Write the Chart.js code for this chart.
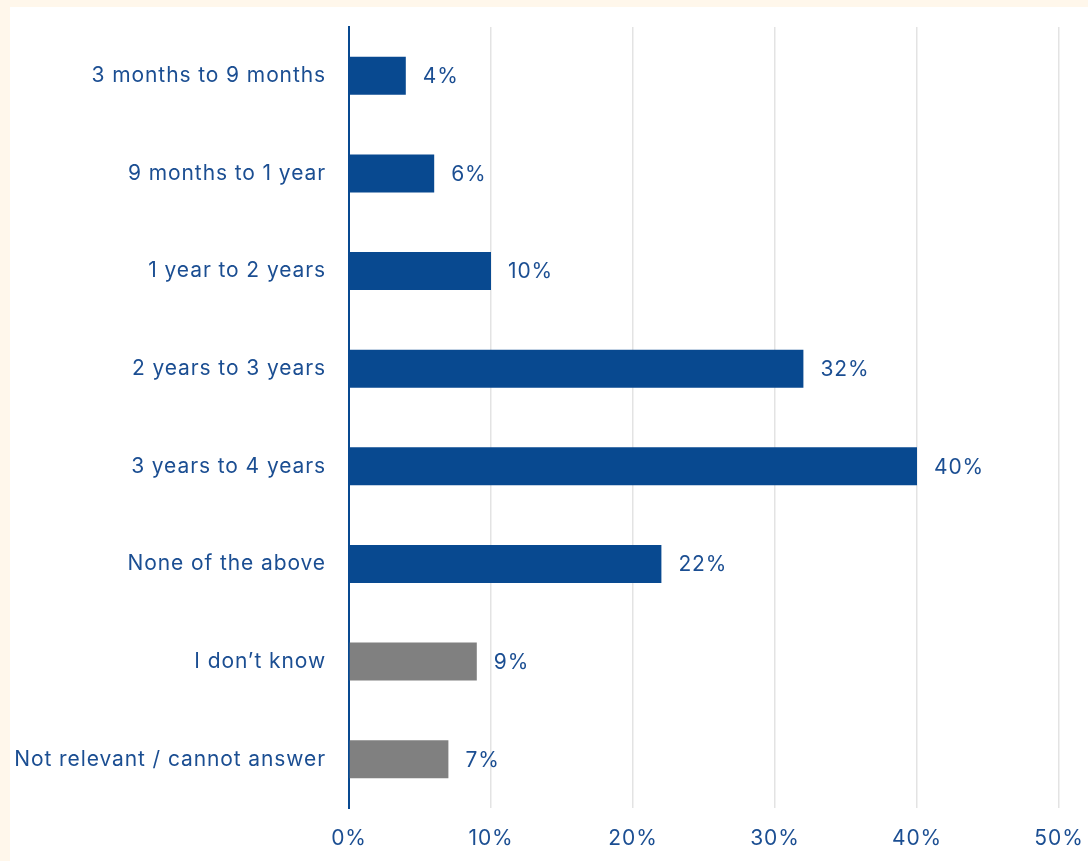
<!DOCTYPE html>
<html>
<head>
<meta charset="utf-8">
<script src="https://cdn.jsdelivr.net/npm/chart.js@4"></script>
<style>
  html, body { margin: 0; padding: 0; background: #FFF7EB; }
  body { width: 1088px; height: 861px; overflow: hidden; position: relative; }
  #panel { position: absolute; left: 10px; top: 7px; width: 1078px; height: 854px; background: #ffffff; }
  #chart { display: block; }
</style>
</head>
<body>
<div id="panel"><canvas id="chart" width="1078" height="854"></canvas></div>
<script>
// Time-frame answers and share of respondents (%)
const categories = [
  '3 months to 9 months',
  '9 months to 1 year',
  '1 year to 2 years',
  '2 years to 3 years',
  '3 years to 4 years',
  'None of the above',
  'I don\u2019t know',
  'Not relevant / cannot answer'
];
const shares = [4, 6, 10, 32, 40, 22, 9, 7];
// Substantive answers in blue, non-answers in grey
const isNonAnswer = [false, false, false, false, false, false, true, true];
const xTicks = [0, 10, 20, 30, 40, 50];

const BLUE = '#084990';
const GREY = '#808080';
const TEXT = '#1B4E92';
const FONT = { family: 'Inter, "Noto Sans", sans-serif', size: 21 };
const SPACING = '0.9px';

// Slightly open tracking for all chart text
const tracking = {
  id: 'tracking',
  beforeDraw(chart) { chart.ctx.letterSpacing = SPACING; }
};

// Writes the value next to the end of each bar
const valueLabels = {
  id: 'valueLabels',
  afterDatasetsDraw(chart) {
    const ctx = chart.ctx;
    const meta = chart.getDatasetMeta(0);
    ctx.save();
    ctx.letterSpacing = SPACING;
    ctx.font = FONT.size + 'px ' + FONT.family;
    ctx.fillStyle = TEXT;
    ctx.textAlign = 'left';
    ctx.textBaseline = 'middle';
    meta.data.forEach((bar, i) => {
      ctx.fillText(shares[i] + '%', bar.x + 17, bar.y + 1);
    });
    ctx.restore();
  }
};

new Chart(document.getElementById('chart'), {
  type: 'bar',
  data: {
    labels: categories,
    datasets: [{
      data: shares,
      backgroundColor: isNonAnswer.map(g => g ? GREY : BLUE),
      borderWidth: 0,
      categoryPercentage: 1,
      barPercentage: 0.39
    }]
  },
  options: {
    indexAxis: 'y',
    responsive: false,
    animation: false,
    layout: { padding: { top: 20, right: 29, bottom: 0, left: 0 } },
    plugins: {
      legend: { display: false },
      tooltip: { enabled: false }
    },
    scales: {
      x: {
        min: 0,
        max: 50,
        afterBuildTicks(scale) {
          scale.ticks = xTicks.map(v => ({ value: v }));
        },
        afterFit(scale) {
          scale.height = 53;
          scale.paddingLeft = 0;
          scale.paddingRight = 0;
        },
        grid: { color: '#E3E3E3', lineWidth: 1.5, drawTicks: false },
        border: { display: false },
        ticks: {
          padding: 18,
          maxRotation: 0,
          color: TEXT,
          font: FONT,
          callback: v => v + '%'
        }
      },
      y: {
        afterFit(scale) {
          scale.width = 339;
          scale.paddingTop = 0;
          scale.paddingBottom = 0;
        },
        grid: { display: false, drawTicks: false },
        border: { display: true, color: BLUE, width: 2 },
        ticks: {
          padding: 23,
          color: TEXT,
          font: FONT
        }
      }
    }
  },
  plugins: [tracking, valueLabels]
});
</script>
</body>
</html>
